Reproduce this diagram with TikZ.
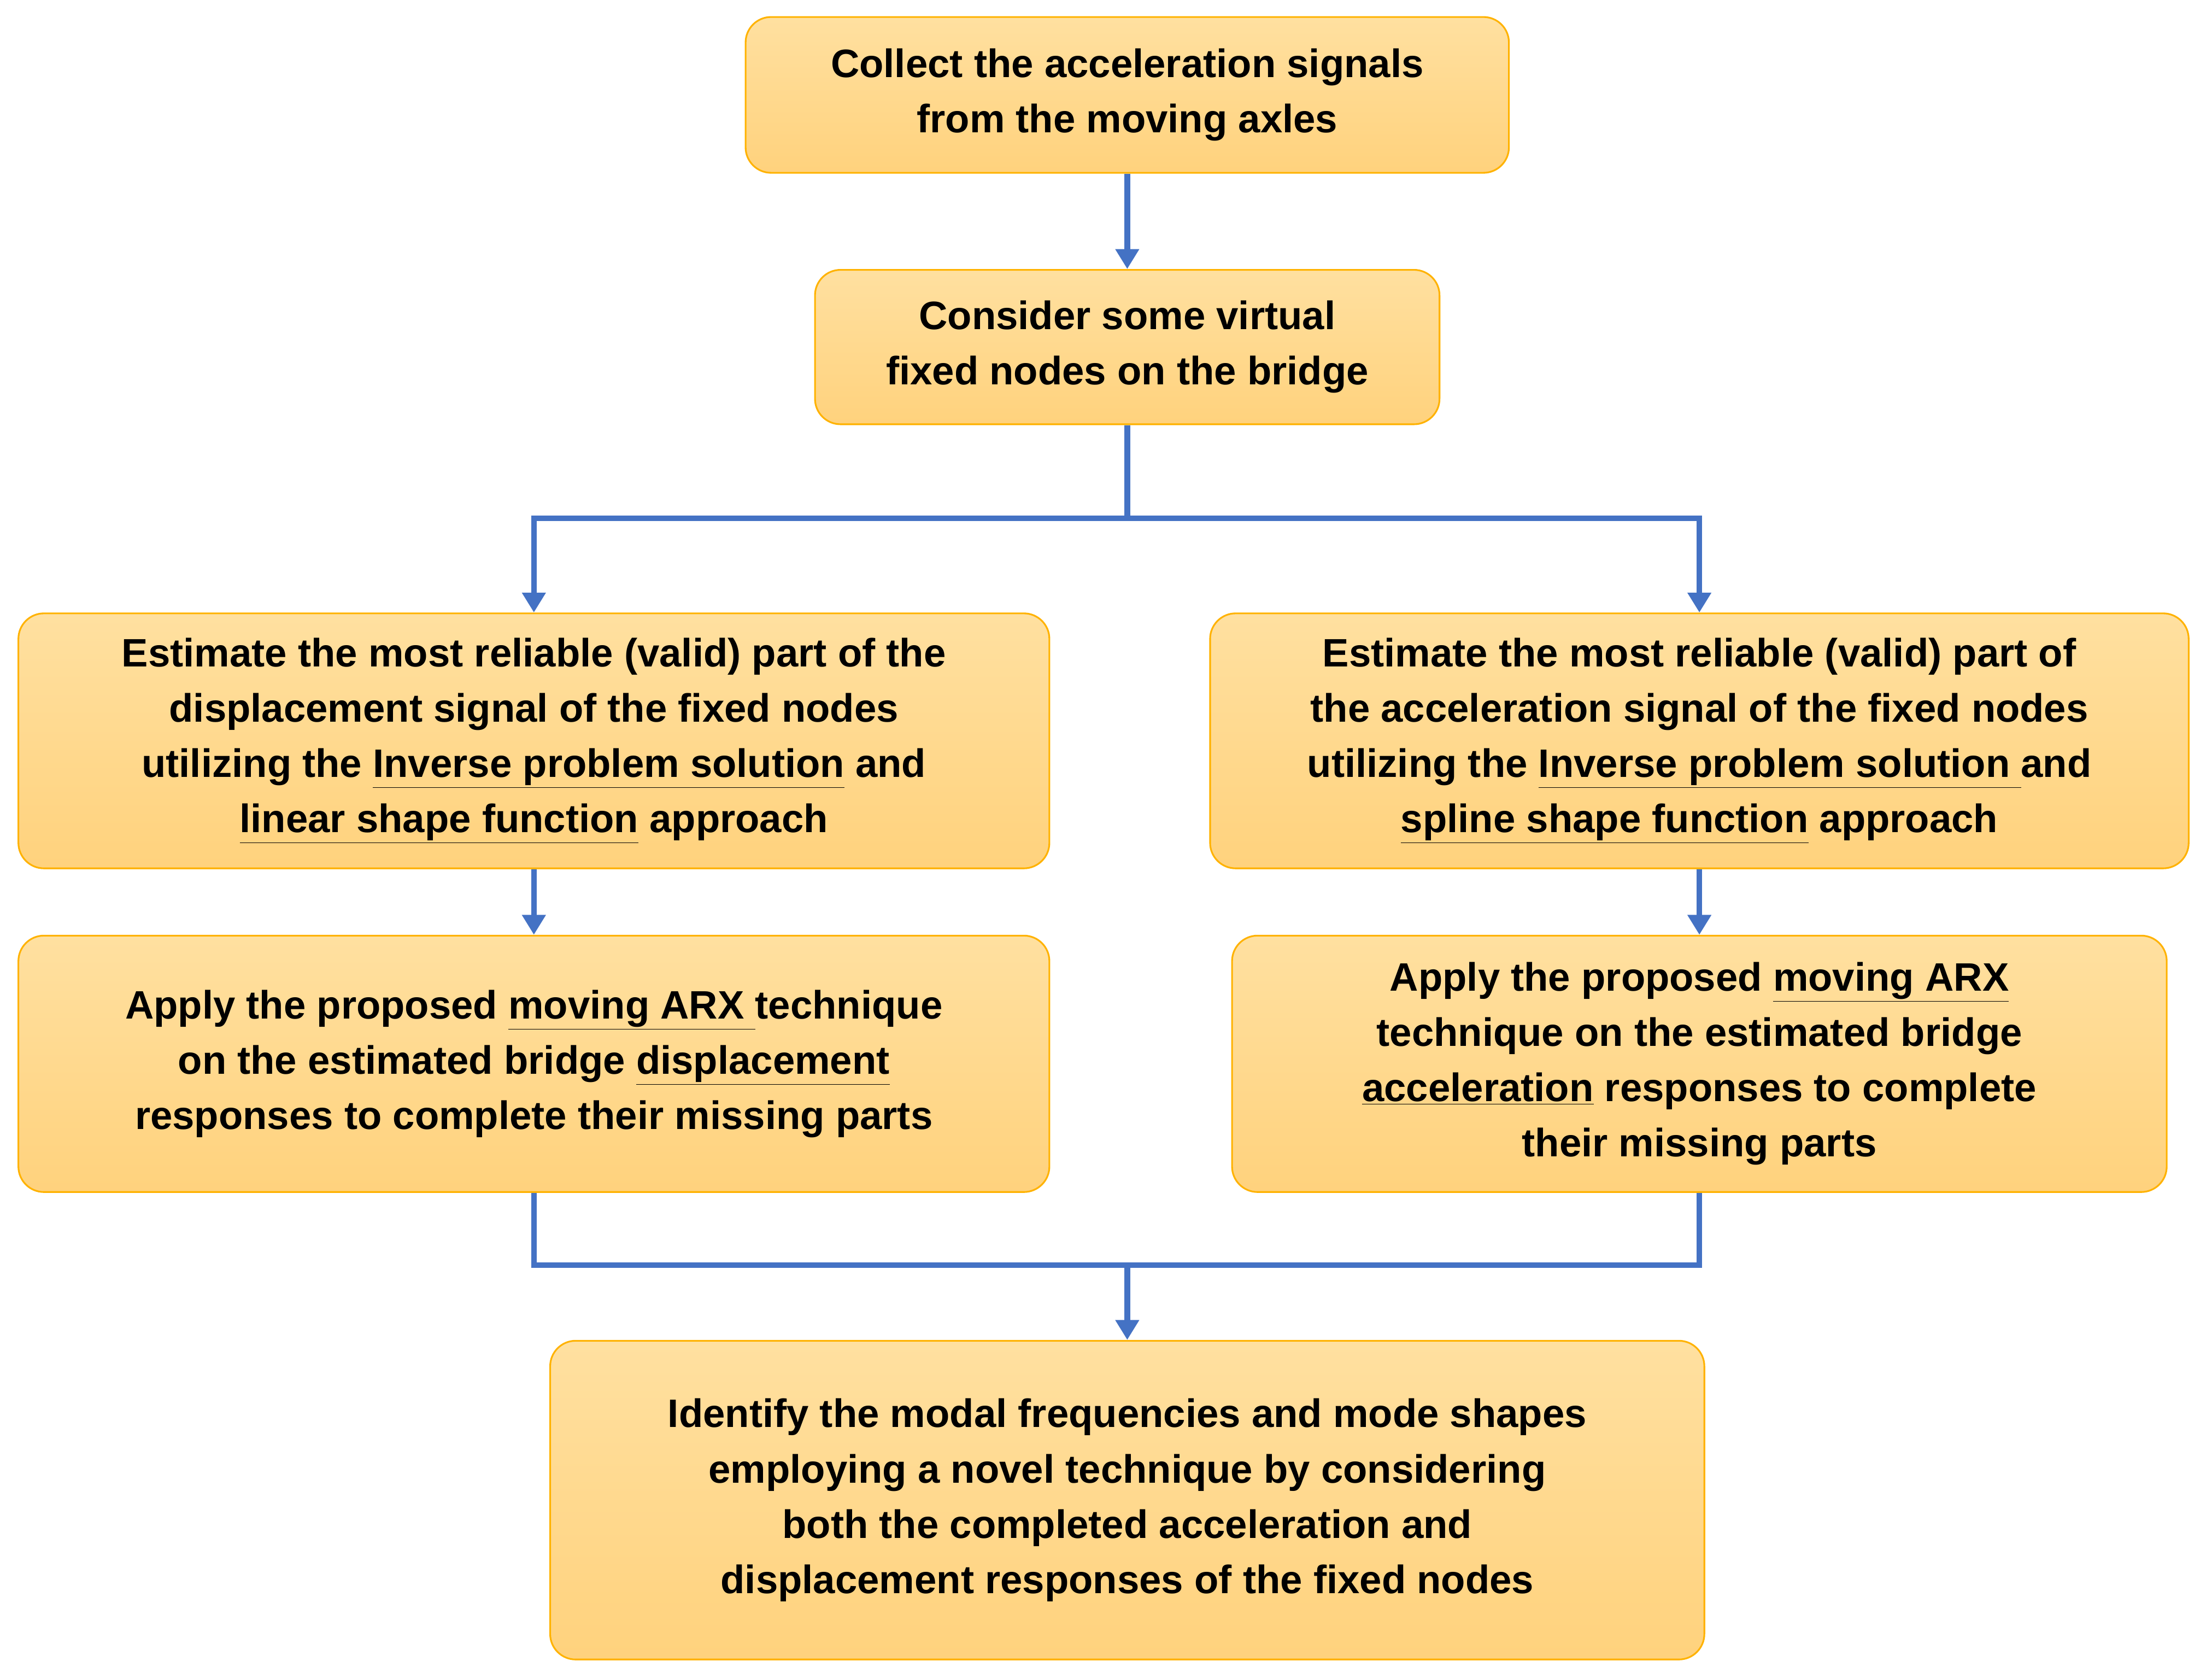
\documentclass[tikz,border=0pt]{standalone}
\usepackage{fontspec}
\setmainfont{Liberation Sans}
\usetikzlibrary{arrows.meta,calc}
\begin{document}
\begin{tikzpicture}[x=1pt,y=-1pt,
  box/.style={draw=orange!60!yellow,line width=1.2pt,rounded corners=18pt,
    top color={rgb,255:red,255;green,224;blue,160},bottom color={rgb,255:red,255;green,210;blue,125},
    align=center,font=\fontsize{28}{39}\selectfont\bfseries,inner sep=0pt},
  con/.style={draw={rgb,255:red,68;green,114;blue,196},line width=4pt},
  arr/.style={con,-{Triangle[length=14pt,width=16pt]}}]
\useasboundingbox (0,0) rectangle (1562,1185);
\node[box,minimum width=539pt,minimum height=110pt] (b1) at (796,67) {Collect the acceleration signals\\from the moving axles};
\node[box,minimum width=441pt,minimum height=109pt] (b2) at (796,245) {Consider some virtual\\fixed nodes on the bridge};
\node[box,minimum width=728pt,minimum height=180pt] (b3) at (377,523) {Estimate the most reliable (valid) part of the\\displacement signal of the fixed nodes\\utilizing the \underline{Inverse problem solution} and\\\underline{linear shape function} approach};
\node[box,minimum width=691pt,minimum height=180pt] (b4) at (1200,523) {Estimate the most reliable (valid) part of\\the acceleration signal of the fixed nodes\\utilizing the \underline{Inverse problem solution\ }and\\\underline{spline shape function} approach};
\node[box,minimum width=728pt,minimum height=181pt] (b5) at (377,751) {Apply the proposed \underline{moving ARX\ }technique\\on the estimated bridge \underline{displacement}\\responses to complete their missing parts};
\node[box,minimum width=660pt,minimum height=181pt] (b6) at (1200,751) {Apply the proposed \underline{moving ARX}\\technique on the estimated bridge\\\underline{acceleration} responses to complete\\their missing parts};
\node[box,minimum width=815pt,minimum height=225pt] (b7) at (796,1059) {Identify the modal frequencies and mode shapes\\employing a novel technique by considering\\both the completed acceleration and\\displacement responses of the fixed nodes};
\coordinate (s) at (796,366);
\coordinate (j) at (796,893);
\draw[arr] (b1) -- (b2);
\draw[con] (b2) -- (s);
\draw[arr] (s) -| (b3);
\draw[arr] (s) -| (b4);
\draw[arr] (b3) -- (b5);
\draw[arr] (b4) -- (b6);
\draw[con] (b5.south) |- (j);
\draw[con] (b6.south) |- (j);
\draw[arr] (j) -- (b7);
\end{tikzpicture}
\end{document}
